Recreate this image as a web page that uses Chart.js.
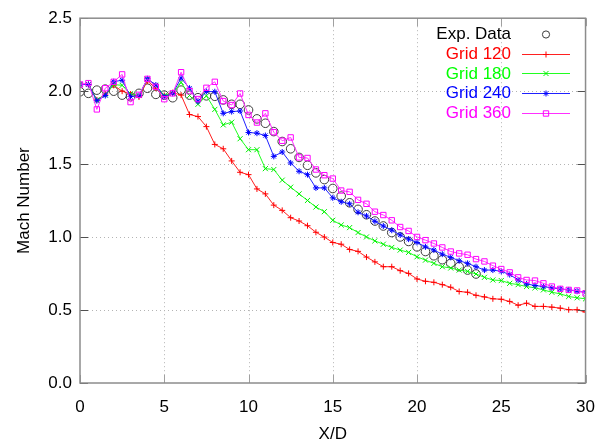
<!DOCTYPE html>
<html>
<head>
<meta charset="utf-8">
<script src="https://cdn.jsdelivr.net/npm/chart.js@4.4.1/dist/chart.umd.min.js"></script>
<style>
  html, body { margin: 0; padding: 0; background: #ffffff; }
  #wrap { width: 609px; height: 446px; }
</style>
</head>
<body>
<div id="wrap"><canvas id="c" width="609" height="446"></canvas></div>
<script>
// ---- data ----
const xGrid = [0,0.5,1,1.5,2,2.5,3,3.5,4,4.5,5,5.5,6,6.5,7,7.5,8,8.5,9,9.5,10,10.5,11,11.5,12,12.5,13,13.5,14,14.5,15,15.5,16,16.5,17,17.5,18,18.5,19,19.5,20,20.5,21,21.5,22,22.5,23,23.5,24,24.5,25,25.5,26,26.5,27,27.5,28,28.5,29,29.5,30];
const xExp = [0,0.5,1,1.5,2,2.5,3,3.5,4,4.5,5,5.5,6,6.5,7,7.5,8,8.5,9,9.5,10,10.5,11,11.5,12,12.5,13,13.5,14,14.5,15,15.5,16,16.5,17,17.5,18,18.5,19,19.5,20,20.5,21,21.5,22,22.5,23,23.5];

const expData = [1.996,1.985,2.007,2.014,2.0,1.973,1.962,1.985,2.02,1.978,1.973,1.955,2.007,1.973,1.955,1.968,1.965,1.94,1.91,1.91,1.871,1.81,1.78,1.723,1.655,1.605,1.546,1.492,1.44,1.394,1.333,1.281,1.235,1.19,1.153,1.11,1.076,1.031,1.001,0.97,0.933,0.901,0.872,0.845,0.82,0.797,0.774,0.747];

const grid120 = [2.046,2.046,1.94,1.98,2.04,2.0,1.98,1.96,2.07,2.02,1.97,1.99,1.973,1.84,1.826,1.757,1.635,1.605,1.522,1.444,1.428,1.33,1.296,1.219,1.183,1.133,1.11,1.078,1.033,1.0,0.963,0.951,0.915,0.902,0.863,0.83,0.797,0.797,0.77,0.751,0.713,0.697,0.69,0.674,0.656,0.627,0.622,0.601,0.59,0.577,0.574,0.559,0.533,0.547,0.525,0.525,0.52,0.513,0.502,0.502,0.486];

const grid180 = [2.046,2.046,1.94,1.975,2.045,2.04,1.98,1.97,2.08,2.04,1.97,1.985,2.06,1.97,1.91,1.968,1.875,1.769,1.787,1.674,1.599,1.599,1.469,1.463,1.39,1.342,1.296,1.251,1.206,1.174,1.115,1.083,1.065,1.031,1.001,0.974,0.951,0.929,0.911,0.895,0.865,0.842,0.82,0.797,0.788,0.774,0.765,0.747,0.724,0.706,0.702,0.683,0.674,0.661,0.652,0.638,0.622,0.611,0.593,0.584,0.577];

const grid240 = [2.046,2.046,1.935,1.97,2.065,2.075,1.963,1.97,2.085,2.042,1.962,1.985,2.09,2.02,1.93,1.998,1.996,1.848,1.86,1.864,1.717,1.712,1.696,1.553,1.583,1.508,1.451,1.428,1.337,1.337,1.269,1.242,1.228,1.17,1.145,1.108,1.076,1.047,1.015,0.986,0.963,0.933,0.911,0.883,0.861,0.838,0.82,0.797,0.774,0.774,0.765,0.743,0.706,0.679,0.668,0.661,0.652,0.645,0.638,0.629,0.622];

const grid360 = [2.046,2.055,1.875,2.02,2.064,2.115,1.925,1.975,2.084,2.03,1.945,1.985,2.13,2.0,1.946,2.023,2.064,1.932,1.905,1.984,1.837,1.785,1.848,1.719,1.66,1.683,1.546,1.542,1.463,1.424,1.401,1.319,1.31,1.255,1.228,1.174,1.151,1.115,1.069,1.042,1.001,0.979,0.956,0.929,0.901,0.888,0.879,0.849,0.833,0.804,0.781,0.758,0.724,0.706,0.702,0.683,0.661,0.645,0.638,0.634,0.615];

const seriesLabels = ['Exp. Data','Grid 120','Grid 180','Grid 240','Grid 360'];
const xTickLabels = ['0','5','10','15','20','25','30'];
const yTickLabels = ['0.0','0.5','1.0','1.5','2.0','2.5'];

// ---- build ----
function pts(xs, ys) { return ys.map((y, i) => ({ x: xs[i], y: y })); }

const FONT = "'Liberation Sans', Arial, sans-serif";

const datasets = [
  { label: seriesLabels[0], data: pts(xExp, expData), showLine: false,
    borderColor: '#404040', backgroundColor: 'rgba(0,0,0,0)', pointStyle: 'circle',
    pointRadius: 4.3, pointBorderWidth: 1, pointBorderColor: '#3c3c3c', pointBackgroundColor: 'rgba(0,0,0,0)',
    order: 5, legendText: '#000000' },
  { label: seriesLabels[1], data: pts(xGrid, grid120), borderColor: '#ff2020', borderWidth: 1,
    pointStyle: 'cross', pointRadius: 3, pointBorderWidth: 1, pointBorderColor: '#ff0000',
    pointBackgroundColor: 'rgba(0,0,0,0)', backgroundColor: 'rgba(0,0,0,0)', order: 4, legendText: '#ff0000' },
  { label: seriesLabels[2], data: pts(xGrid, grid180), borderColor: '#20ff20', borderWidth: 1,
    pointStyle: 'crossRot', pointRadius: 3.6, pointBorderWidth: 1, pointBorderColor: '#00ee00',
    pointBackgroundColor: 'rgba(0,0,0,0)', backgroundColor: 'rgba(0,0,0,0)', order: 3, legendText: '#00ff00' },
  { label: seriesLabels[3], data: pts(xGrid, grid240), borderColor: '#2020ff', borderWidth: 1,
    pointStyle: 'star', pointRadius: 3, pointBorderWidth: 1, pointBorderColor: '#0000ff',
    pointBackgroundColor: 'rgba(0,0,0,0)', backgroundColor: 'rgba(0,0,0,0)', order: 2, legendText: '#0000ff' },
  { label: seriesLabels[4], data: pts(xGrid, grid360), borderColor: '#ff30ff', borderWidth: 1,
    pointStyle: 'rect', pointRadius: 3.8, pointBorderWidth: 1, pointBorderColor: '#ff00ff',
    pointBackgroundColor: 'rgba(0,0,0,0)', backgroundColor: 'rgba(0,0,0,0)', order: 1, legendText: '#ff00ff' }
];

// grid, frame and inward ticks
const framePlugin = {
  id: 'frame',
  beforeDatasetsDraw(chart) {
    const { ctx, chartArea: a, scales } = chart;
    ctx.save();
    ctx.strokeStyle = '#b4b4b4';
    ctx.lineWidth = 1;
    ctx.setLineDash([1, 3]);
    scales.x.ticks.forEach(t => {
      const px = Math.round(scales.x.getPixelForValue(t.value)) + 0.5;
      if (px <= a.left + 1 || px >= a.right - 1) return;
      ctx.beginPath(); ctx.moveTo(px, a.top); ctx.lineTo(px, a.bottom); ctx.stroke();
    });
    scales.y.ticks.forEach(t => {
      const py = Math.round(scales.y.getPixelForValue(t.value)) + 0.5;
      if (py <= a.top + 1 || py >= a.bottom - 1) return;
      ctx.beginPath(); ctx.moveTo(a.left, py); ctx.lineTo(a.right, py); ctx.stroke();
    });
    ctx.restore();
  },
  afterDatasetsDraw(chart) {
    const { ctx, chartArea: a, scales } = chart;
    ctx.save();
    ctx.setLineDash([]);
    ctx.strokeStyle = '#505050';
    ctx.lineWidth = 1;
    const tl = 8;
    scales.y.ticks.forEach(t => {
      const py = Math.round(scales.y.getPixelForValue(t.value)) + 0.5;
      ctx.beginPath(); ctx.moveTo(a.left, py); ctx.lineTo(a.left + tl, py); ctx.stroke();
      ctx.beginPath(); ctx.moveTo(a.right, py); ctx.lineTo(a.right - tl, py); ctx.stroke();
    });
    ctx.strokeStyle = '#a0a0a0';
    scales.x.ticks.forEach(t => {
      const px = Math.round(scales.x.getPixelForValue(t.value)) + 0.5;
      ctx.beginPath(); ctx.moveTo(px, a.bottom); ctx.lineTo(px, a.bottom - tl); ctx.stroke();
      ctx.beginPath(); ctx.moveTo(px, a.top); ctx.lineTo(px, a.top + tl); ctx.stroke();
    });
    ctx.strokeStyle = '#8c8c8c';
    ctx.lineWidth = 1.5;
    ctx.strokeRect(a.left, a.top, a.right - a.left, a.bottom - a.top);
    ctx.restore();
  }
};

// gnuplot-like key: right-aligned text, sample line with marker to its right
const keyPlugin = {
  id: 'gkey',
  afterDraw(chart) {
    const { ctx } = chart;
    const textRight = 511;
    const lineL = 522, lineR = 570, mark = 546;
    const y0 = 34, dy = 19.7;
    ctx.save();
    ctx.font = "17px " + FONT;
    ctx.textAlign = 'right';
    ctx.textBaseline = 'middle';
    chart.data.datasets.forEach((ds, i) => {
      const y = y0 + i * dy;
      ctx.fillStyle = ds.legendText;
      ctx.fillText(ds.label, textRight, y + 0.5);
      if (ds.showLine !== false) {
        ctx.strokeStyle = ds.borderColor;
        ctx.lineWidth = 1;
        ctx.beginPath(); ctx.moveTo(lineL, Math.round(y) + 0.5); ctx.lineTo(lineR, Math.round(y) + 0.5); ctx.stroke();
      }
      ctx.strokeStyle = ds.pointBorderColor;
      ctx.fillStyle = 'rgba(0,0,0,0)';
      ctx.lineWidth = 1;
      Chart.helpers.drawPoint(ctx, {
        pointStyle: ds.pointStyle,
        radius: ds.showLine === false ? 3.6 : ds.pointRadius,
        borderWidth: 1, rotation: 0
      }, mark, Math.round(y) + 0.5);
    });
    ctx.restore();
  }
};

new Chart(document.getElementById('c'), {
  type: 'line',
  data: { datasets },
  options: {
    responsive: false,
    devicePixelRatio: 1,
    animation: false,
    events: [],
    layout: { padding: { left: 0, right: 20, top: 16, bottom: 0 } },
    elements: { line: { tension: 0, fill: false } },
    plugins: { legend: { display: false }, tooltip: { enabled: false } },
    scales: {
      x: {
        type: 'linear', min: 0, max: 30,
        afterFit(s) { s.height = 63; },
        grid: { display: false, drawTicks: false },
        border: { display: false },
        ticks: {
          stepSize: 5, padding: 14, color: '#000000', maxRotation: 0,
          font: { family: FONT, size: 17 },
          callback: (v, i) => xTickLabels[i]
        },
        title: { display: true, text: 'X/D', color: '#000000',
                 font: { family: FONT, size: 17 }, padding: { top: 0, bottom: 1 } }
      },
      y: {
        type: 'linear', min: 0, max: 2.5,
        afterFit(s) { s.width = 80; },
        grid: { display: false, drawTicks: false },
        border: { display: false },
        ticks: {
          stepSize: 0.5, padding: 8, color: '#000000',
          font: { family: FONT, size: 17 },
          callback: (v, i) => yTickLabels[i]
        },
        title: { display: true, text: 'Mach Number', color: '#000000',
                 font: { family: FONT, size: 17 }, padding: { top: 14, bottom: 0 } }
      }
    }
  },
  plugins: [framePlugin, keyPlugin]
});
</script>
</body>
</html>
